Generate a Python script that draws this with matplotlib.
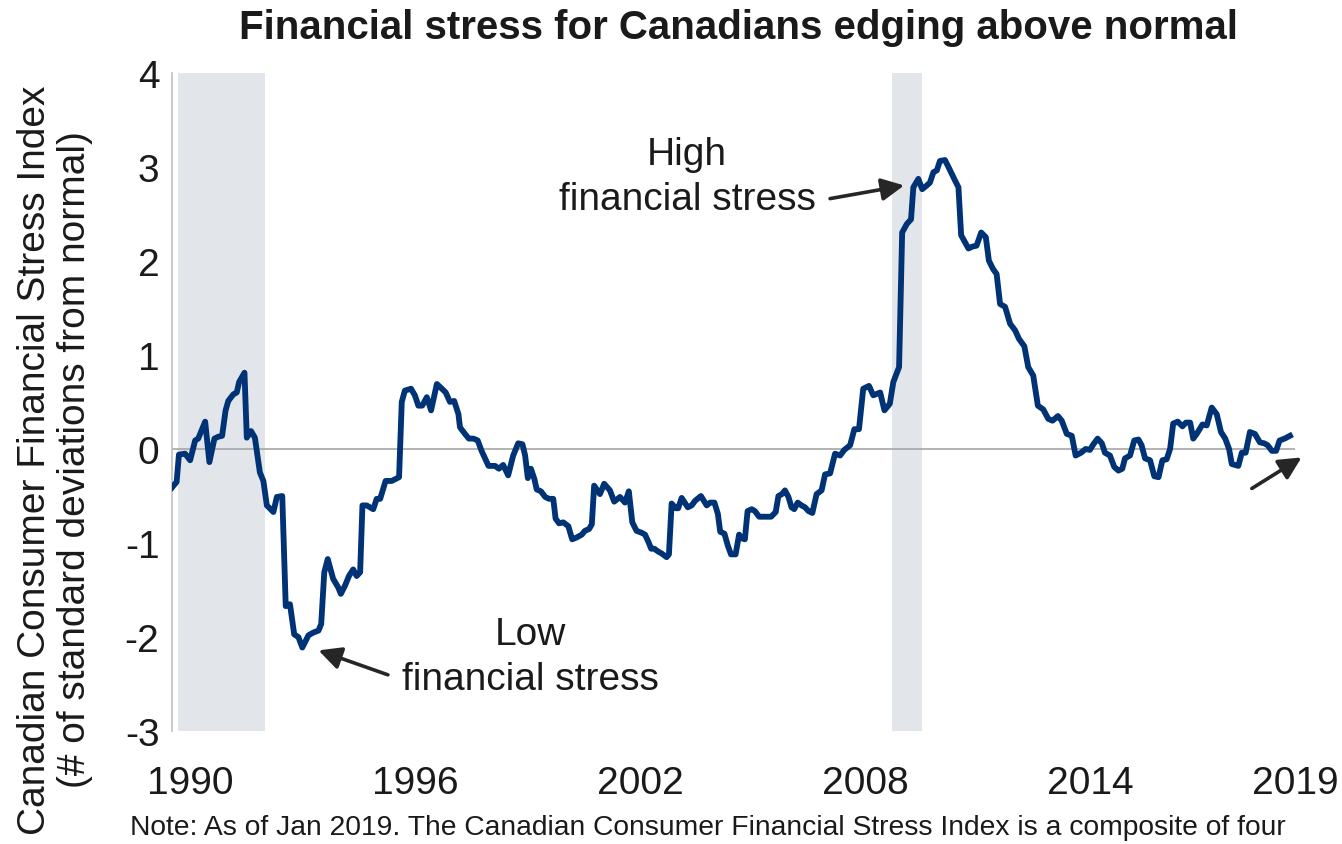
import matplotlib
matplotlib.use("Agg")
import matplotlib.pyplot as plt

plt.rcParams['font.family'] = ['Liberation Sans', 'DejaVu Sans']

# Canadian Consumer Financial Stress Index (std. deviations from normal)
dates = [
    1990.00, 1990.12, 1990.18, 1990.34, 1990.47, 1990.60, 1990.68, 1990.86, 1990.97,
    1991.10, 1991.20, 1991.30, 1991.39, 1991.46, 1991.59, 1991.68, 1991.74, 1991.88,
    1991.94, 1992.05, 1992.15, 1992.28, 1992.37, 1992.46, 1992.63, 1992.72, 1992.86,
    1992.95, 1993.06, 1993.17, 1993.28, 1993.38, 1993.54, 1993.67, 1993.80, 1993.87,
    1993.95, 1994.04, 1994.18, 1994.31, 1994.38, 1994.49, 1994.59, 1994.70, 1994.79,
    1994.88, 1994.94, 1995.05, 1995.22, 1995.31, 1995.40, 1995.54, 1995.70, 1995.89,
    1995.96, 1996.04, 1996.20, 1996.30, 1996.39, 1996.49, 1996.61, 1996.72, 1996.87,
    1996.95, 1997.10, 1997.21, 1997.32, 1997.43, 1997.47, 1997.60, 1997.70, 1997.82,
    1997.93, 1998.03, 1998.12, 1998.21, 1998.38, 1998.48, 1998.59, 1998.72, 1998.85,
    1998.98, 1999.09, 1999.16, 1999.23, 1999.31, 1999.40, 1999.46, 1999.57, 1999.68,
    1999.78, 1999.89, 1999.95, 2000.04, 2000.15, 2000.28, 2000.38, 2000.50, 2000.63,
    2000.71, 2000.82, 2000.89, 2000.95, 2001.10, 2001.21, 2001.36, 2001.47, 2001.62,
    2001.75, 2001.85, 2001.94, 2002.05, 2002.18, 2002.27, 2002.36, 2002.43, 2002.51,
    2002.61, 2002.70, 2002.83, 2002.89, 2002.96, 2003.07, 2003.13, 2003.22, 2003.38,
    2003.48, 2003.57, 2003.72, 2003.87, 2003.96, 2004.07, 2004.16, 2004.22, 2004.33,
    2004.42, 2004.50, 2004.62, 2004.71, 2004.78, 2004.86, 2004.93, 2005.04, 2005.12,
    2005.23, 2005.38, 2005.54, 2005.66, 2005.73, 2005.82, 2005.90, 2005.99, 2006.07,
    2006.14, 2006.23, 2006.33, 2006.42, 2006.51, 2006.61, 2006.72, 2006.85, 2006.94,
    2007.07, 2007.20, 2007.33, 2007.44, 2007.59, 2007.70, 2007.82, 2007.93, 2008.08,
    2008.19, 2008.37, 2008.48, 2008.62, 2008.71, 2008.86, 2008.94, 2009.06, 2009.17,
    2009.23, 2009.36, 2009.46, 2009.58, 2009.66, 2009.75, 2009.84, 2009.92, 2010.05,
    2010.16, 2010.29, 2010.40, 2010.47, 2010.66, 2010.76, 2010.87, 2010.99, 2011.11,
    2011.19, 2011.30, 2011.39, 2011.48, 2011.61, 2011.74, 2011.87, 2011.97, 2012.11,
    2012.21, 2012.34, 2012.46, 2012.60, 2012.73, 2012.84, 2012.98, 2013.08, 2013.21,
    2013.34, 2013.44, 2013.58, 2013.70, 2013.81, 2013.90, 2014.01, 2014.12, 2014.20,
    2014.33, 2014.44, 2014.55, 2014.65, 2014.72, 2014.85, 2014.96, 2015.07, 2015.15,
    2015.24, 2015.37, 2015.48, 2015.59, 2015.69, 2015.80, 2015.89, 2015.97, 2016.09,
    2016.21, 2016.30, 2016.41, 2016.49, 2016.58, 2016.73, 2016.84, 2016.97, 2017.10,
    2017.21, 2017.32, 2017.42, 2017.49, 2017.66, 2017.75, 2017.85, 2017.96, 2018.09,
    2018.22, 2018.33, 2018.42, 2018.53, 2018.64, 2018.73, 2018.86, 2019.00,
]
stress = [
    -0.41, -0.35, -0.06, -0.05, -0.12, 0.09, 0.11, 0.29, -0.14,
    0.11, 0.13, 0.14, 0.41, 0.51, 0.58, 0.60, 0.71, 0.81,
    0.12, 0.19, 0.12, -0.25, -0.34, -0.60, -0.67, -0.51, -0.50,
    -1.67, -1.65, -1.97, -2.00, -2.11, -1.98, -1.95, -1.93, -1.86,
    -1.31, -1.17, -1.38, -1.47, -1.54, -1.45, -1.35, -1.28, -1.35,
    -1.31, -0.60, -0.60, -0.64, -0.53, -0.53, -0.34, -0.34, -0.30,
    0.50, 0.62, 0.64, 0.57, 0.46, 0.46, 0.55, 0.41, 0.69,
    0.66, 0.60, 0.50, 0.51, 0.37, 0.23, 0.16, 0.11, 0.11,
    0.09, -0.02, -0.10, -0.18, -0.18, -0.21, -0.17, -0.28, -0.07,
    0.06, 0.05, -0.07, -0.31, -0.21, -0.32, -0.43, -0.45, -0.51,
    -0.53, -0.53, -0.74, -0.79, -0.78, -0.82, -0.96, -0.94, -0.91,
    -0.87, -0.85, -0.80, -0.39, -0.48, -0.37, -0.44, -0.56, -0.51,
    -0.57, -0.45, -0.78, -0.87, -0.89, -0.91, -0.99, -1.06, -1.06,
    -1.09, -1.11, -1.15, -1.12, -0.58, -0.63, -0.63, -0.52, -0.62,
    -0.60, -0.55, -0.50, -0.60, -0.57, -0.57, -0.69, -0.88, -0.90,
    -1.03, -1.12, -1.12, -0.91, -0.95, -0.96, -0.66, -0.64, -0.66,
    -0.72, -0.72, -0.72, -0.67, -0.50, -0.48, -0.44, -0.51, -0.62,
    -0.64, -0.57, -0.60, -0.62, -0.66, -0.68, -0.48, -0.44, -0.27,
    -0.26, -0.05, -0.07, -0.01, 0.04, 0.21, 0.21, 0.64, 0.67,
    0.57, 0.60, 0.41, 0.48, 0.71, 0.87, 2.30, 2.39, 2.44,
    2.78, 2.87, 2.76, 2.80, 2.83, 2.94, 2.96, 3.06, 3.07,
    2.98, 2.87, 2.78, 2.27, 2.13, 2.15, 2.16, 2.30, 2.25,
    2.00, 1.91, 1.86, 1.54, 1.51, 1.33, 1.26, 1.17, 1.09,
    0.87, 0.78, 0.46, 0.42, 0.32, 0.30, 0.35, 0.30, 0.16,
    0.14, -0.07, -0.04, 0.00, -0.01, 0.05, 0.11, 0.06, -0.04,
    -0.07, -0.19, -0.23, -0.21, -0.10, -0.07, 0.09, 0.10, 0.04,
    -0.10, -0.12, -0.29, -0.30, -0.12, -0.11, 0.00, 0.27, 0.29,
    0.24, 0.28, 0.28, 0.11, 0.16, 0.26, 0.25, 0.44, 0.37,
    0.18, 0.11, 0.00, -0.16, -0.18, -0.04, -0.04, 0.18, 0.16,
    0.07, 0.06, 0.04, -0.02, -0.02, 0.09, 0.11, 0.14,
]

# Recession periods (start, end)
recessions = [(1990.16, 1992.41), (2008.68, 2009.46)]

year_labels = ['1990', '1996', '2002', '2008', '2014', '2019']
year_label_pos = [1990.47, 1996.30, 2002.14, 2007.98, 2013.81, 2019.13]
y_ticks = [-3, -2, -1, 0, 1, 2, 3, 4]

LINE = '#003375'
TEXT = '#1a1a1a'
SHADE = '#e2e6ea'

fig = plt.figure(figsize=(13.42, 8.45), dpi=100)
ax = fig.add_axes([172 / 1342, 1 - 732.3 / 845, (1295 - 172) / 1342, (732.3 - 73.5) / 845])

for start, end in recessions:
    ax.axvspan(start, end, color=SHADE, lw=0, zorder=0)

ax.axhline(0, color='#a6a6a6', lw=1.2, zorder=1)
ax.plot(dates, stress, color=LINE, lw=4.2, solid_joinstyle='round', zorder=3)

ax.set_xlim(1990.0, 2019.13)
ax.set_ylim(-3, 4)
ax.set_yticks(y_ticks)
ax.set_yticklabels([str(v) for v in y_ticks])
ax.set_xticks(year_label_pos)
ax.set_xticklabels(year_labels)
ax.tick_params(axis='both', length=0, labelsize=28, colors=TEXT)
ax.tick_params(axis='x', pad=24)
ax.tick_params(axis='y', pad=9)

for side in ['top', 'right', 'bottom']:
    ax.spines[side].set_visible(False)
ax.spines['left'].set_color('#bfbfbf')
ax.spines['left'].set_linewidth(1.2)

fig.text(0.55, 1 - 28 / 845, 'Financial stress for Canadians edging above normal',
         ha='center', va='center', fontsize=29, fontweight='bold', color=TEXT)

fig.text(55 / 1342, 1 - 460 / 845,
         'Canadian Consumer Financial Stress Index\n(# of standard deviations from normal)',
         rotation=90, ha='center', va='center', ma='center', fontsize=28,
         color=TEXT, linespacing=1.15)

fig.text(130 / 1342, 1 - 828 / 845,
         'Note: As of Jan 2019. The Canadian Consumer Financial Stress Index is a composite of four',
         ha='left', va='center', fontsize=20.3, color=TEXT)

arrow = dict(arrowstyle='-|>', mutation_scale=34, lw=2.6, color='#262626',
             shrinkA=0, shrinkB=0)

ax.text(2003.36, 2.90, 'High\nfinancial stress', ha='center', va='center',
        fontsize=28, color=TEXT, linespacing=1.32)
ax.annotate('', xy=(2008.99, 2.80), xytext=(2007.07, 2.66), arrowprops=arrow)

ax.text(1999.29, -2.21, 'Low\nfinancial stress', ha='center', va='center',
        fontsize=28, color=TEXT, linespacing=1.32)
ax.annotate('', xy=(1993.80, -2.14), xytext=(1995.60, -2.40), arrowprops=arrow)

ax.annotate('', xy=(2019.30, -0.09), xytext=(2018.01, -0.42), arrowprops=arrow,
            annotation_clip=False)

fig.savefig('out.png', dpi=100)
